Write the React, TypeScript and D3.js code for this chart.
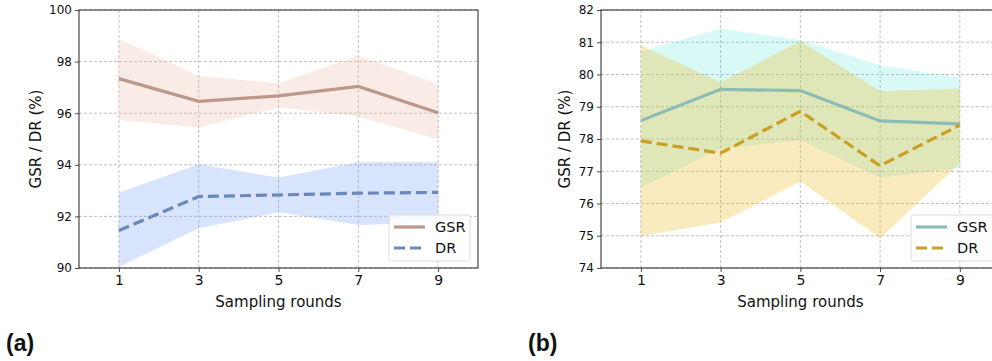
import React, { useEffect, useRef } from 'react';
import * as d3 from 'd3';

// sampling rounds on the x axis
const rounds = [1, 3, 5, 7, 9];
const xTicks = [1, 3, 5, 7, 9];

// panel (a)
const aYTicks = [90, 92, 94, 96, 98, 100];
const aGsrMean = [97.34, 96.46, 96.67, 97.04, 96.02];
const aGsrUpper = [98.89, 97.44, 97.16, 98.23, 97.13];
const aGsrLower = [95.74, 95.45, 96.23, 95.87, 94.99];
const aDrMean = [91.45, 92.77, 92.83, 92.9, 92.93];
const aDrUpper = [92.92, 94.02, 93.51, 94.1, 94.1];
const aDrLower = [90.05, 91.54, 92.16, 91.67, 91.75];

// panel (b)
const bYTicks = [74, 75, 76, 77, 78, 79, 80, 81, 82];
const bGsrMean = [78.57, 79.54, 79.5, 78.56, 78.47];
const bGsrUpper = [80.71, 81.42, 81.07, 80.29, 79.9];
const bGsrLower = [76.49, 77.7, 77.97, 76.8, 77.1];
const bDrMean = [77.94, 77.56, 78.86, 77.17, 78.43];
const bDrUpper = [80.91, 79.75, 81.04, 79.49, 79.56];
const bDrLower = [74.99, 75.41, 76.68, 74.92, 77.25];

const seriesNames = ['GSR', 'DR'];

const FONT = 'DejaVu Sans, sans-serif';

function App() {
  const ref = useRef<SVGSVGElement | null>(null);

  useEffect(() => {
    drawChart();
  });

  function drawChart() {
    const svg = d3.select(ref.current);
    svg.selectAll('*').remove();

    const panels = [
      {
        left: 79, right: 478, top: 10, bottom: 268,
        yDomain: [90, 100], yTicks: aYTicks, yLabelX: 36, tag: '(a)', tagX: 6,
        gsr: { mean: aGsrMean, up: aGsrUpper, lo: aGsrLower, line: '#bc978b', band: '#e8b8a0', bandAlpha: 0.28 },
        dr: { mean: aDrMean, up: aDrUpper, lo: aDrLower, line: '#6b88ba', band: '#7aa6f5', bandAlpha: 0.3 },
        legend: { x: 389, y: 215, w: 81, h: 46 },
      },
      {
        left: 601, right: 999.7, top: 10, bottom: 268,
        yDomain: [74, 82], yTicks: bYTicks, yLabelX: 565, tag: '(b)', tagX: 528,
        gsr: { mean: bGsrMean, up: bGsrUpper, lo: bGsrLower, line: '#8bbcb6', band: '#40e0d0', bandAlpha: 0.2 },
        dr: { mean: bDrMean, up: bDrUpper, lo: bDrLower, line: '#c9a021', band: '#f0be28', bandAlpha: 0.3 },
        legend: { x: 911, y: 215, w: 85, h: 46 },
      },
    ];

    panels.forEach(p => {
      const x = d3.scaleLinear().domain([0, 10]).range([p.left, p.right]);
      const y = d3.scaleLinear().domain(p.yDomain).range([p.bottom, p.top]);
      const g = svg.append('g');

      // grid lines
      g.append('g')
        .selectAll('line')
        .data(xTicks)
        .enter()
        .append('line')
        .attr('x1', d => x(d)).attr('x2', d => x(d))
        .attr('y1', p.top).attr('y2', p.bottom)
        .attr('stroke', '#b0b0b0').attr('stroke-width', 0.8)
        .attr('stroke-dasharray', '3,2');
      g.append('g')
        .selectAll('line')
        .data(p.yTicks)
        .enter()
        .append('line')
        .attr('x1', p.left).attr('x2', p.right)
        .attr('y1', d => y(d)).attr('y2', d => y(d))
        .attr('stroke', '#b0b0b0').attr('stroke-width', 0.8)
        .attr('stroke-dasharray', '3,2');

      const area = (lo: number[], up: number[]) =>
        d3.area<number>()
          .x(d => x(d))
          .y0((d, i) => y(lo[i]))
          .y1((d, i) => y(up[i]))(rounds);
      const line = (vals: number[]) =>
        d3.line<number>().x(d => x(d)).y((d, i) => y(vals[i]))(rounds);

      [p.gsr, p.dr].forEach(s => {
        g.append('path')
          .attr('d', area(s.lo, s.up))
          .attr('fill', s.band)
          .attr('fill-opacity', s.bandAlpha);
      });

      g.append('path')
        .attr('d', line(p.gsr.mean))
        .attr('fill', 'none')
        .attr('stroke', p.gsr.line)
        .attr('stroke-width', 3.2);
      g.append('path')
        .attr('d', line(p.dr.mean))
        .attr('fill', 'none')
        .attr('stroke', p.dr.line)
        .attr('stroke-width', 3.2)
        .attr('stroke-dasharray', '11,5');

      // spines
      g.append('rect')
        .attr('x', p.left).attr('y', p.top)
        .attr('width', p.right - p.left).attr('height', p.bottom - p.top)
        .attr('fill', 'none').attr('stroke', '#222').attr('stroke-width', 1);

      // axes
      const xAxis = d3.axisBottom(x).tickValues(xTicks).tickSize(4).tickPadding(3).tickFormat(d3.format('d'));
      const yAxis = d3.axisLeft(y).tickValues(p.yTicks).tickSize(4).tickPadding(3).tickFormat(d3.format('d'));
      const gx = g.append('g').attr('transform', `translate(0,${p.bottom})`).call(xAxis);
      const gy = g.append('g').attr('transform', `translate(${p.left},0)`).call(yAxis);
      [gx, gy].forEach(a => {
        a.select('.domain').remove();
        a.selectAll('line').attr('stroke', '#222').attr('stroke-width', 0.8);
        a.selectAll('text').attr('fill', '#111').style('font-family', FONT).style('font-size', '12px');
      });
      gx.selectAll('text').style('font-size', '14px');

      g.append('text')
        .attr('x', (x(1) + x(9)) / 2)
        .attr('y', 307)
        .attr('text-anchor', 'middle')
        .style('font-family', FONT)
        .style('font-size', '15px')
        .attr('fill', '#111')
        .text('Sampling rounds');

      g.append('text')
        .attr('transform', `translate(${p.yLabelX},${(p.top + p.bottom) / 2}) rotate(-90)`)
        .attr('text-anchor', 'middle')
        .attr('dy', '0.35em')
        .style('font-family', FONT)
        .style('font-size', '15px')
        .attr('fill', '#111')
        .text('GSR / DR (%)');

      g.append('text')
        .attr('x', p.tagX)
        .attr('y', 351)
        .style('font-family', 'Liberation Sans, Arial, sans-serif')
        .style('font-weight', 'bold')
        .style('font-size', '23px')
        .attr('fill', '#111')
        .text(p.tag);

      // legend
      const lg = g.append('g').attr('transform', `translate(${p.legend.x},${p.legend.y})`);
      lg.append('rect')
        .attr('width', p.legend.w).attr('height', p.legend.h)
        .attr('rx', 2)
        .attr('fill', 'white').attr('fill-opacity', 0.85)
        .attr('stroke', '#d6d6d6').attr('stroke-width', 0.8);
      [p.gsr, p.dr].forEach((s, i) => {
        const ly = 12 + i * 21;
        lg.append('line')
          .attr('x1', 5).attr('x2', 36)
          .attr('y1', ly).attr('y2', ly)
          .attr('stroke', s.line).attr('stroke-width', 3.2)
          .attr('stroke-dasharray', i === 1 ? '11,5' : null);
        lg.append('text')
          .attr('x', 46).attr('y', ly)
          .attr('dy', '0.35em')
          .style('font-family', FONT)
          .style('font-size', '14.5px')
          .attr('fill', '#111')
          .text(seriesNames[i]);
      });
    });
  }

  return (
    <svg
      ref={ref}
      width={992}
      height={361}
      style={{ position: 'absolute', left: 0, top: 0, background: 'white', overflow: 'hidden' }}
    />
  );
}

export default App;
